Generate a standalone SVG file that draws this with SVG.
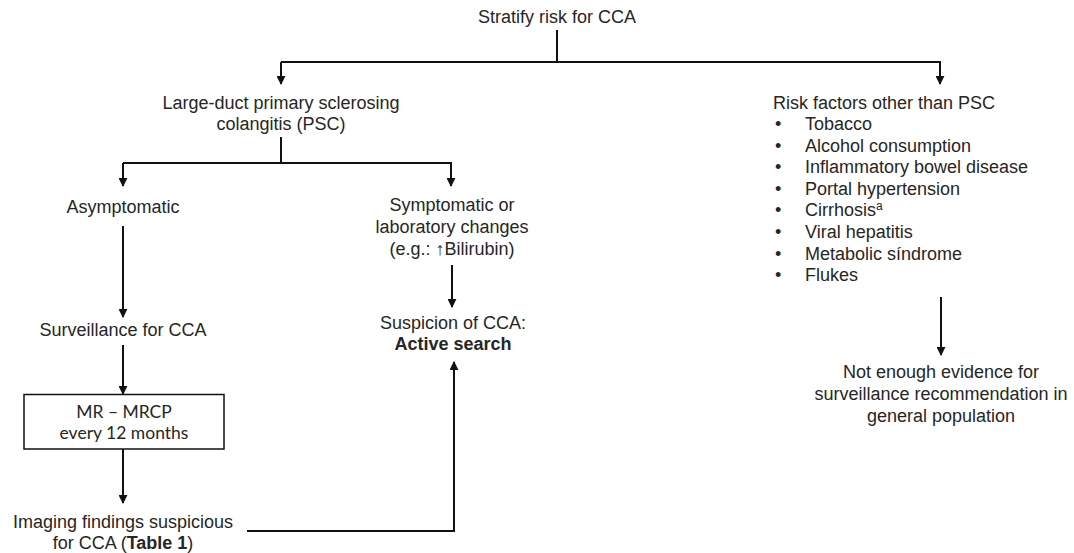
<svg xmlns="http://www.w3.org/2000/svg" width="1074" height="553" viewBox="0 0 1074 553">
<defs>
<marker id="ah" viewBox="0 0 10 10" refX="9" refY="5" markerWidth="4.5" markerHeight="4.5" orient="auto" markerUnits="strokeWidth">
<path d="M0,0 L10,5 L0,10 z" fill="#111"/>
</marker>
<style>
text{font-family:"Liberation Sans",Arial,sans-serif;font-size:18px;fill:#262626}
.c{text-anchor:middle}
.b{font-weight:bold}
.cal{font-family:Lato,"Open Sans",sans-serif;font-size:17.5px}
.ln{fill:none;stroke:#111;stroke-width:2}
.ar{fill:none;stroke:#111;stroke-width:2;marker-end:url(#ah)}
</style>
</defs>
<rect width="1074" height="553" fill="#fff"/>
<g id="connectors">
<path class="ln" d="M557,30 V62"/>
<path class="ar" d="M281,62 H940 V84"/>
<path class="ar" d="M281,62 V84"/>
<path class="ln" d="M281,137 V163"/>
<path class="ar" d="M123,163 H451 V186"/>
<path class="ar" d="M123,163 V186"/>
<path class="ar" d="M123,226 V317"/>
<path class="ar" d="M452,265 V307"/>
<path class="ar" d="M123,345 V394"/>
<path class="ar" d="M123,449 V503"/>
<path class="ar" d="M247,531 H454 V362"/>
<path class="ar" d="M941,297 V355"/>
</g>
<g id="n-stratify"><text class="c" x="557" y="23">Stratify risk for CCA</text></g>
<g id="n-psc"><text class="c" x="281" y="109">Large-duct primary sclerosing</text><text class="c" x="281" y="130">colangitis (PSC)</text></g>
<g id="n-asym"><text class="c" x="123" y="213">Asymptomatic</text></g>
<g id="n-sym"><text class="c" x="452" y="211">Symptomatic or</text><text class="c" x="452" y="233">laboratory changes</text><text class="c" x="452" y="255">(e.g.: ↑Bilirubin)</text></g>
<g id="n-surv"><text class="c" x="123" y="336">Surveillance for CCA</text></g>
<g id="n-susp"><text class="c" x="453" y="329">Suspicion of CCA:</text><text class="c b" x="453" y="350">Active search</text></g>
<g id="n-mr"><rect x="24" y="394.5" width="200" height="54.5" fill="#fff" stroke="#111" stroke-width="1.5"/><text class="c cal" x="124" y="418">MR – MRCP</text><text class="c cal" x="124" y="439">every 12 months</text></g>
<g id="n-img"><text class="c" x="123" y="528">Imaging findings suspicious</text><text class="c" x="123" y="549">for CCA (<tspan class="b">Table 1</tspan>)</text></g>
<g id="n-risk">
<text x="773" y="109">Risk factors other than PSC</text>
<text x="775" y="130">•</text><text x="805" y="130">Tobacco</text>
<text x="775" y="151.6">•</text><text x="805" y="151.6">Alcohol consumption</text>
<text x="775" y="173.2">•</text><text x="805" y="173.2">Inflammatory bowel disease</text>
<text x="775" y="194.8">•</text><text x="805" y="194.8">Portal hypertension</text>
<text x="775" y="216.4">•</text><text x="805" y="216.4">Cirrhosis<tspan font-size="12" dy="-6">a</tspan></text>
<text x="775" y="238">•</text><text x="805" y="238">Viral hepatitis</text>
<text x="775" y="259.6">•</text><text x="805" y="259.6">Metabolic síndrome</text>
<text x="775" y="281.2">•</text><text x="805" y="281.2">Flukes</text>
</g>
<g id="n-notenough"><text class="c" x="941" y="378">Not enough evidence for</text><text class="c" x="941" y="400">surveillance recommendation in</text><text class="c" x="941" y="422">general population</text></g>
</svg>
